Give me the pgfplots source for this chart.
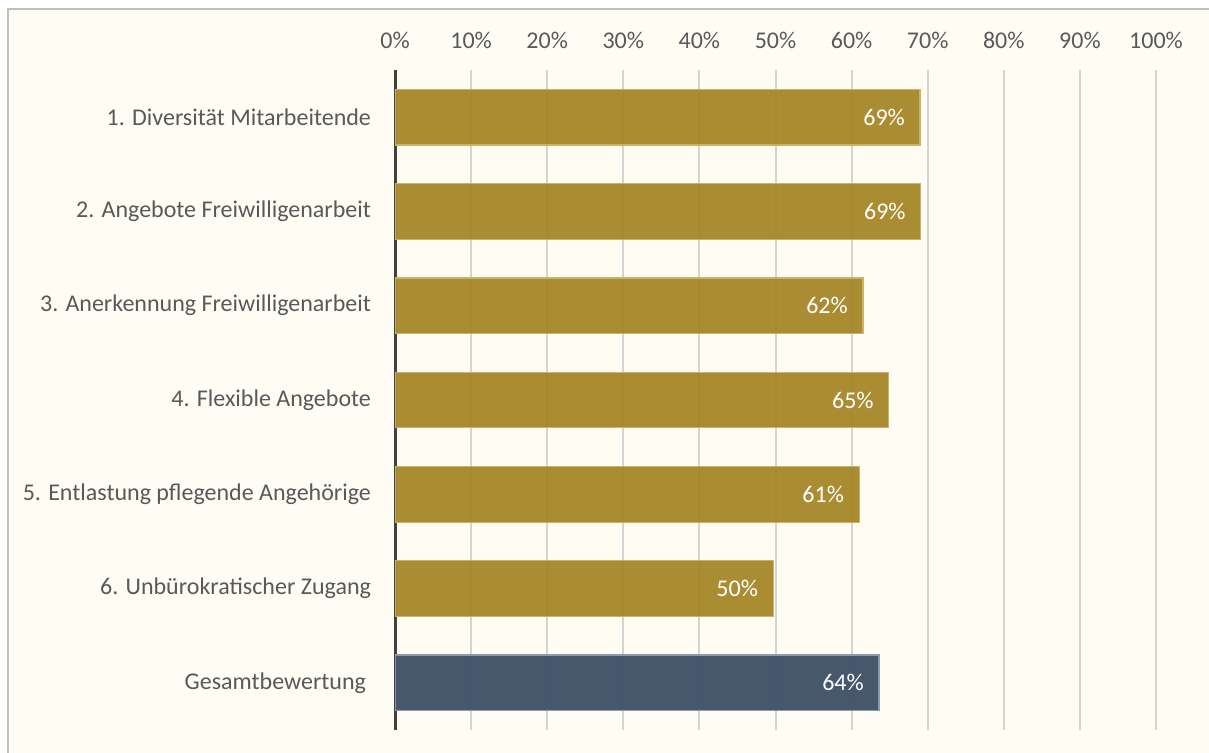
\documentclass[border=0pt]{standalone}
\usepackage{fontspec}
\setmainfont{Carlito}
\usepackage{pgfplots}
\pgfplotsset{compat=1.18}
\definecolor{cream}{HTML}{FFFCF3}
\definecolor{frame}{HTML}{BFBFBF}
\definecolor{gold}{HTML}{A68628}
\definecolor{goldedge}{HTML}{C9B36A}
\definecolor{slate}{HTML}{44546A}
\definecolor{slateedge}{HTML}{8E9AAB}
\definecolor{txt}{HTML}{595959}
\definecolor{gridc}{HTML}{D4D4D4}
\definecolor{axc}{HTML}{404040}
\begin{document}
\begin{tikzpicture}
\useasboundingbox (0,0) rectangle (604.5pt,-376.5pt);
\fill[white] (0,0) rectangle (604.5pt,-376.5pt);
\draw[frame, line width=1pt, fill=cream] (3.75pt,-4.75pt) rectangle (640pt,-400pt);
\begin{axis}[
  at={(197.5pt,-365pt)}, anchor=south west,
  scale only axis, width=380.5pt, height=330pt,
  xmin=0, xmax=100, ymin=-0.5, ymax=6.5, y dir=reverse,
  xbar, bar width=0.59, bar shift=0pt,
  axis x line*=top, x axis line style={draw=none},
  axis y line*=left, y axis line style={draw=axc, line width=1.5pt},
  xtick={0,10,...,100},
  xticklabel={\pgfmathprintnumber{\tick}\%},
  /pgf/number format/assume math mode=true,
  xticklabel style={font=\fontsize{12}{14}\selectfont, text=txt, yshift=7pt},
  ytick={0,...,6},
  yticklabels={1. Diversität Mitarbeitende, 2. Angebote Freiwilligenarbeit, 3. Anerkennung Freiwilligenarbeit, 4. Flexible Angebote, 5. Entlastung pflegende Angehörige, 6. Unbürokratischer Zugang, Gesamtbewertung\hspace*{2.5pt}},
  yticklabel style={font=\fontsize{12}{14}\selectfont, text=txt, xshift=-8.5pt},
  major tick length=0pt,
  xmajorgrids, grid style={gridc, line width=1pt},
  point meta=explicit symbolic,
  nodes near coords,
  every node near coord/.append style={anchor=east, xshift=-4pt, text=white, font=\fontsize{12}{14}\selectfont},
]
\addplot[fill=gold, fill opacity=0.95, draw=goldedge, line width=0.6pt, text opacity=1] coordinates {
  (69.0,0) [69\%]
  (69.1,1) [69\%]
  (61.5,2) [62\%]
  (64.9,3) [65\%]
  (61.0,4) [61\%]
  (49.7,5) [50\%]
};
\addplot[fill=slate, fill opacity=0.98, draw=slateedge, line width=0.6pt, text opacity=1] coordinates {
  (63.6,6) [64\%]
};
\end{axis}
\end{tikzpicture}
\end{document}
